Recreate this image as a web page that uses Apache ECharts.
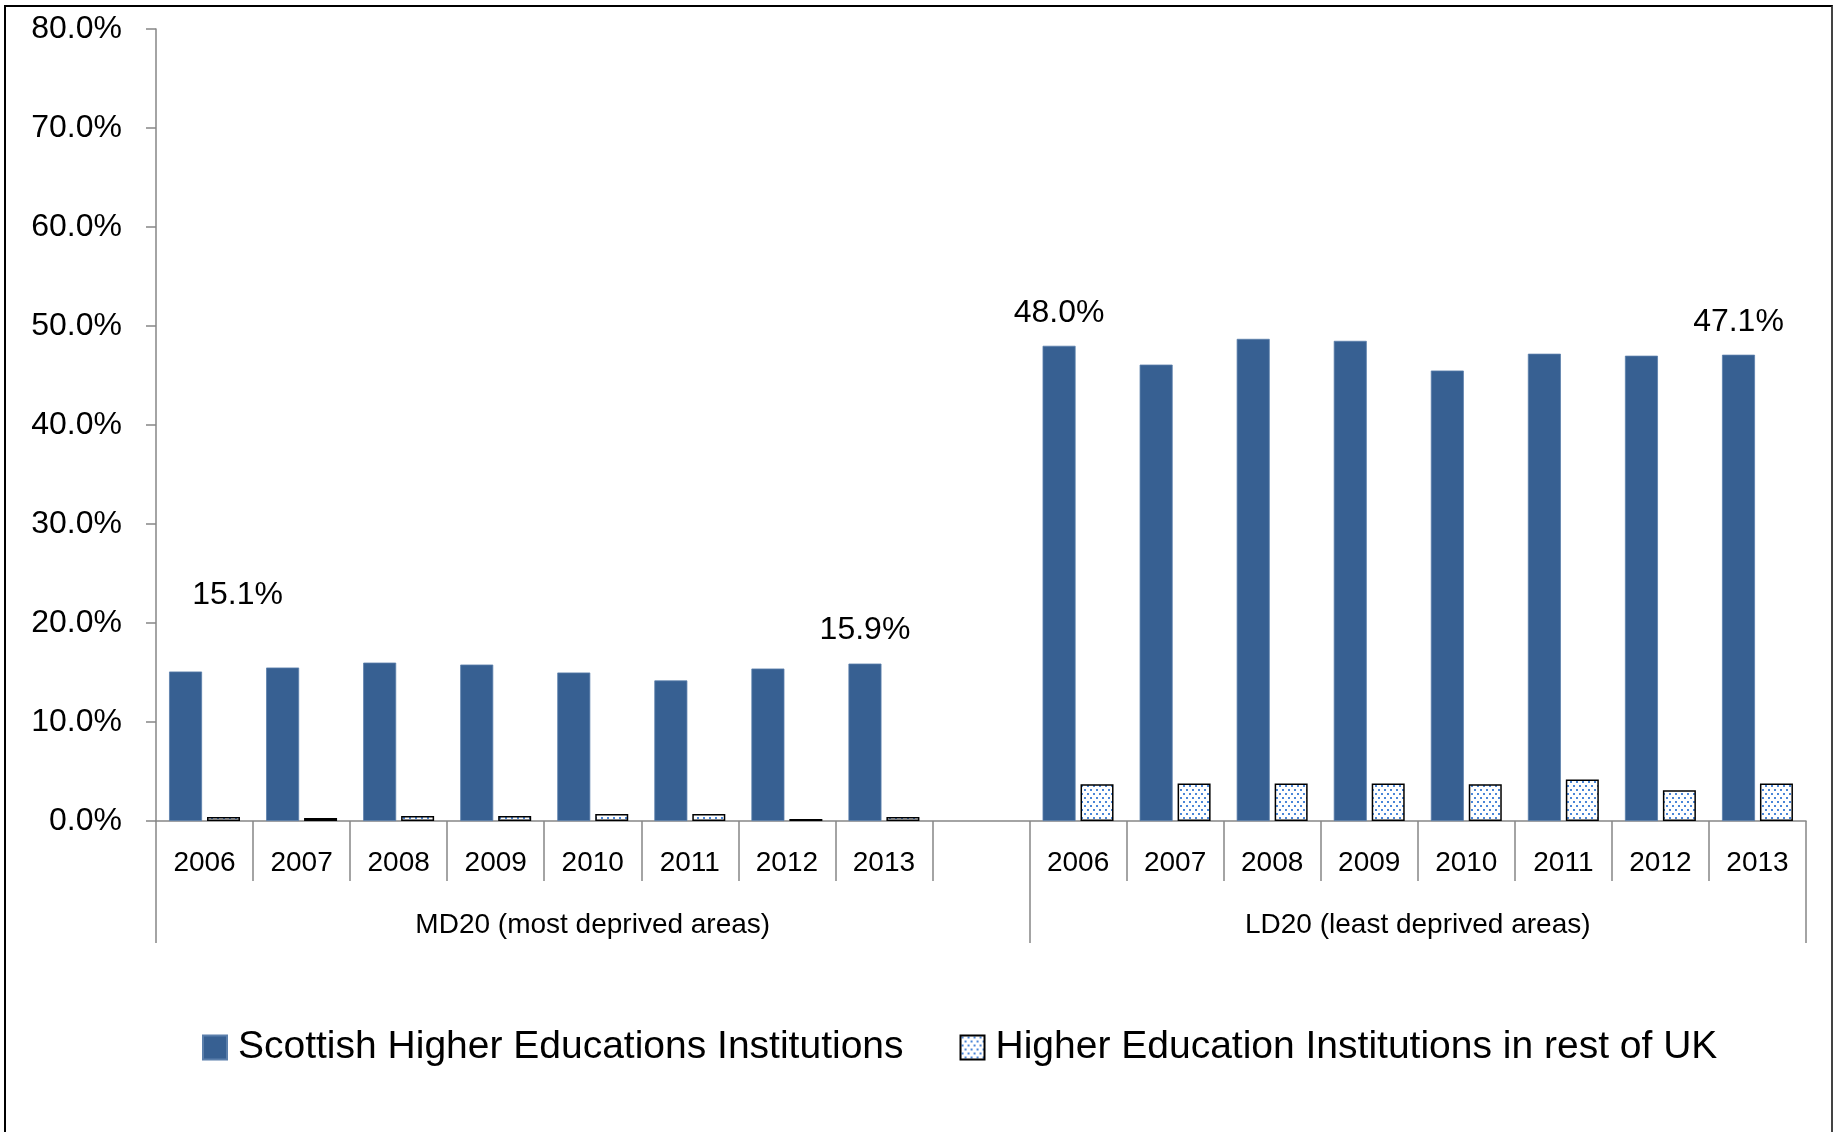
<!DOCTYPE html>
<html>
<head>
<meta charset="utf-8">
<title>Scottish vs rest of UK HEIs</title>
<script src="https://cdn.jsdelivr.net/npm/echarts@6/dist/echarts.min.js"></script>
<style>
  html, body { margin: 0; padding: 0; background: #fff; overflow: hidden; }
  #chart { position: absolute; left: 0; top: 0; width: 1835px; height: 1132px; }
  #frame {
    position: absolute; left: 4px; top: 5px; width: 1829px; height: 1200px;
    box-sizing: border-box; border: 2px solid #000; border-right-color: #444;
    pointer-events: none;
  }
</style>
</head>
<body>
<div id="chart"></div>
<div id="frame"></div>
<script>
// years shown under each group; one blank slot separates the two groups
const years = ["2006", "2007", "2008", "2009", "2010", "2011", "2012", "2013"];
const groupNames = ["MD20 (most deprived areas)", "LD20 (least deprived areas)"];
const seriesNames = ["Scottish Higher Educations Institutions", "Higher Education Institutions in rest of UK"];

// values in %
const scottishMD20 = [15.1, 15.5, 16.0, 15.8, 15.0, 14.2, 15.4, 15.9];
const scottishLD20 = [48.0, 46.1, 48.7, 48.5, 45.5, 47.2, 47.0, 47.1];
const restUkMD20 = [0.4, 0.3, 0.5, 0.5, 0.7, 0.7, 0.2, 0.4];
const restUkLD20 = [3.7, 3.8, 3.8, 3.8, 3.7, 4.2, 3.1, 3.8];

// y axis ticks
const yMin = 0;
const yMax = 80;
const yStep = 10;

// which scottish bars carry a value label (first and last of each group)
const labelledIdx = [0, 7, 9, 16];

const categories = [...years, "", ...years];
const scottish = [...scottishMD20, "-", ...scottishLD20];
const restUk = [...restUkMD20, "-", ...restUkLD20];

// group edges / centres on the 17-slot axis
const groupEdges = [0, years.length + 1, categories.length];
const groupCentres = [groupEdges[0] + (groupEdges[1] - groupEdges[0]) / 2, groupEdges[1] + (groupEdges[2] - groupEdges[1]) / 2];

const FONT = "'Liberation Sans', Arial, sans-serif";
const AXIS_GREY = "#868686";
const BLUE = "#376092";

// dotted fill for the rest-of-UK bars
function dotPattern() {
  const c = document.createElement("canvas");
  c.width = 6;
  c.height = 8;
  const ctx = c.getContext("2d");
  ctx.fillStyle = "#fff";
  ctx.fillRect(0, 0, 6, 8);
  ctx.fillStyle = "#4a86d8";
  ctx.fillRect(1, 1, 2, 2);
  ctx.fillRect(4, 5, 2, 2);
  return c;
}

function pct(v) {
  return Number(v).toFixed(1) + "%";
}

const scottishData = scottish.map((v, i) => {
  if (!labelledIdx.includes(i)) return v;
  return {
    value: v,
    label: {
      show: true,
      position: "top",
      distance: 17,
      offset: i === 0 ? [52, -43] : [0, 0],
      formatter: (p) => pct(p.value),
      fontFamily: FONT,
      fontSize: 32,
      color: "#000",
    },
  };
});

const chart = echarts.init(document.getElementById("chart"));

chart.setOption({
  animation: false,
  backgroundColor: "#fff",
  grid: { left: 156, right: 29, top: 29, bottom: 311, containLabel: false },
  legend: {
    left: 202,
    top: 1028,
    padding: 0,
    icon: "rect",
    itemWidth: 24,
    itemHeight: 24,
    itemGap: 56,
    textStyle: { fontFamily: FONT, fontSize: 39, color: "#000", padding: [0, 0, 0, 6] },
    data: seriesNames,
  },
  xAxis: [
    {
      type: "category",
      data: categories,
      position: "bottom",
      axisLine: { show: true, lineStyle: { color: AXIS_GREY, width: 1.5 } },
      axisTick: { show: true, interval: 0, length: 60, lineStyle: { color: AXIS_GREY, width: 1.5 } },
      axisLabel: { interval: 0, margin: 28, fontFamily: FONT, fontSize: 28, color: "#000" },
      splitLine: { show: false },
    },
    {
      type: "value",
      min: 0,
      max: categories.length,
      position: "bottom",
      offset: 0,
      axisLine: { show: false },
      axisTick: {
        show: true,
        length: 122,
        customValues: groupEdges,
        lineStyle: { color: AXIS_GREY, width: 1.5 },
      },
      axisLabel: {
        margin: 90,
        customValues: groupCentres,
        formatter: (v) => {
          const k = groupCentres.indexOf(v);
          return k >= 0 ? groupNames[k] : "";
        },
        fontFamily: FONT,
        fontSize: 28,
        color: "#000",
      },
      splitLine: { show: false },
    },
  ],
  yAxis: {
    type: "value",
    min: yMin,
    max: yMax,
    interval: yStep,
    axisLine: { show: true, lineStyle: { color: AXIS_GREY, width: 1.5 } },
    axisTick: { show: true, length: 10, lineStyle: { color: AXIS_GREY, width: 1.5 } },
    axisLabel: { margin: 34, formatter: (v) => pct(v), fontFamily: FONT, fontSize: 32, color: "#000" },
    splitLine: { show: false },
  },
  series: [
    {
      name: seriesNames[0],
      type: "bar",
      xAxisIndex: 0,
      barWidth: 33,
      barGap: "15%",
      itemStyle: { color: BLUE, borderColor: "#5b7fab", borderWidth: 0.8 },
      data: scottishData,
    },
    {
      name: seriesNames[1],
      type: "bar",
      xAxisIndex: 0,
      barWidth: 33,
      barGap: "15%",
      itemStyle: {
        color: { image: dotPattern(), repeat: "repeat" },
        borderColor: "#000",
        borderWidth: 1.5,
      },
      data: restUk,
    },
  ],
});
</script>
</body>
</html>
